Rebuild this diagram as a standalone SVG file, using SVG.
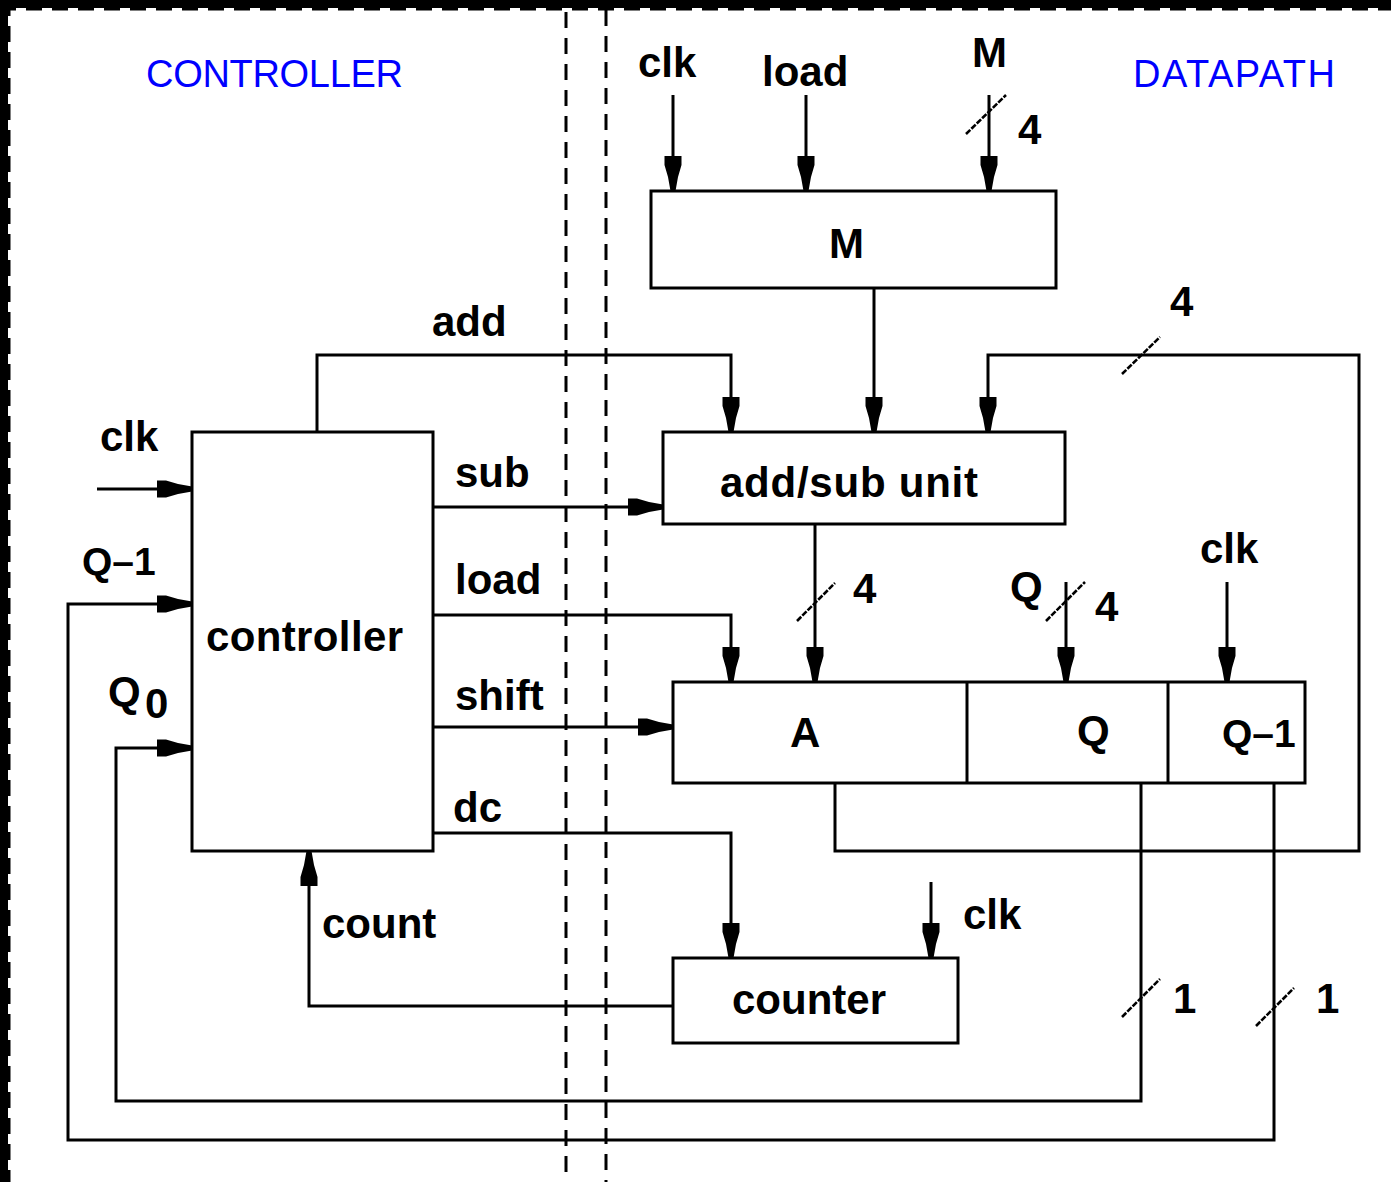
<svg xmlns="http://www.w3.org/2000/svg" width="1391" height="1182" viewBox="0 0 1391 1182">
<style>
  .box{fill:#fff;stroke:#000;stroke-width:3}
  .w{fill:none;stroke:#000;stroke-width:3}
  .a{fill:none;stroke:#000;stroke-width:3;marker-end:url(#arr)}
  .sl{fill:none;stroke:#000;stroke-width:2.6;stroke-dasharray:6 1.5}
  .dash{fill:none;stroke:#000;stroke-width:3;stroke-dasharray:16 10}
  text{font-family:"Liberation Sans",Arial,sans-serif;font-size:42px;font-weight:bold;fill:#000}
  .q1{font-size:39px}
  .blue{fill:#0000ff;font-weight:normal;font-size:38px}
</style>
<defs>
  <marker id="arr" markerUnits="userSpaceOnUse" orient="auto" refX="0" refY="0" markerWidth="40" markerHeight="20" overflow="visible">
    <path d="M-35,-8.5 L-26,-8.5 L-14,-5 L0,-2.5 L0,2.5 L-14,5 L-26,8.5 L-35,8.5 Z" fill="#000"/>
  </marker>
</defs>
<rect width="1391" height="1182" fill="#fff"/>
<g id="frame">
  <rect x="0" y="0" width="1391" height="8" fill="#000"/>
  <rect x="0" y="0" width="8" height="1182" fill="#000"/>
  <line x1="0" y1="9" x2="1391" y2="9" stroke="#000" stroke-width="3" stroke-dasharray="16 10"/>
  <line x1="9" y1="0" x2="9" y2="1182" stroke="#000" stroke-width="3" stroke-dasharray="16 10"/>
</g>
<g id="dividers">
  <line class="dash" x1="566" y1="12" x2="566" y2="1182"/>
  <line class="dash" x1="606" y1="10" x2="606" y2="1182"/>
</g>
<g id="titles">
  <text class="blue" x="146" y="87" textLength="257">CONTROLLER</text>
  <text class="blue" x="1133" y="87" textLength="202">DATAPATH</text>
</g>
<g id="connectors">
  <line class="a" x1="673" y1="95" x2="673" y2="191"/>
  <line class="a" x1="806" y1="95" x2="806" y2="191"/>
  <line class="a" x1="989" y1="95" x2="989" y2="191"/>
  <line class="sl" x1="966" y1="134" x2="1006" y2="95"/>
  <line class="a" x1="874" y1="288" x2="874" y2="432"/>
  <polyline class="a" points="317,432 317,355 731,355 731,432"/>
  <polyline class="a" points="835,783 835,851 1359,851 1359,355 988,355 988,432"/>
  <line class="sl" x1="1122" y1="374" x2="1160" y2="337"/>
  <line class="a" x1="433" y1="507" x2="663" y2="507"/>
  <polyline class="a" points="433,615 731,615 731,682"/>
  <line class="a" x1="433" y1="727" x2="673" y2="727"/>
  <polyline class="a" points="433,833 731,833 731,958"/>
  <line class="a" x1="931" y1="882" x2="931" y2="958"/>
  <polyline class="a" points="673,1006 309,1006 309,851"/>
  <line class="a" x1="815" y1="524" x2="815" y2="682"/>
  <line class="sl" x1="797" y1="621" x2="835" y2="583"/>
  <line class="a" x1="1066" y1="582" x2="1066" y2="682"/>
  <line class="sl" x1="1046" y1="621" x2="1085" y2="582"/>
  <line class="a" x1="1227" y1="582" x2="1227" y2="682"/>
  <polyline class="a" points="1141,783 1141,1101 116,1101 116,748 192,748"/>
  <line class="sl" x1="1122" y1="1017" x2="1160" y2="979"/>
  <polyline class="a" points="1274,783 1274,1140 68,1140 68,604 192,604"/>
  <line class="sl" x1="1256" y1="1026" x2="1294" y2="988"/>
  <line class="a" x1="97" y1="489" x2="192" y2="489"/>
</g>
<g id="labels">
  <text x="638" y="77">clk</text>
  <text x="762" y="86">load</text>
  <text x="972" y="67">M</text>
  <text x="1018" y="144">4</text>
  <text x="1170" y="316">4</text>
  <text x="432" y="336">add</text>
  <text x="455" y="487">sub</text>
  <text x="455" y="594">load</text>
  <text x="455" y="710">shift</text>
  <text x="453" y="822">dc</text>
  <text x="100" y="451">clk</text>
  <text class="q1" x="82" y="575">Q–1</text>
  <text x="108" y="706">Q</text>
  <text x="145" y="718">0</text>
  <text x="322" y="938">count</text>
  <text x="963" y="929">clk</text>
  <text x="1200" y="563">clk</text>
  <text x="1010" y="601">Q</text>
  <text x="1095" y="621">4</text>
  <text x="853" y="603">4</text>
  <text x="1173" y="1013">1</text>
  <text x="1316" y="1013">1</text>
</g>
<g id="node-M">
  <rect class="box" x="651" y="191" width="405" height="97"/>
  <text x="829" y="258">M</text>
</g>
<g id="node-addsub">
  <rect class="box" x="663" y="432" width="402" height="92"/>
  <text x="720" y="497" textLength="258">add/sub unit</text>
</g>
<g id="node-controller">
  <rect class="box" x="192" y="432" width="241" height="419"/>
  <text x="206" y="651" textLength="197">controller</text>
</g>
<g id="node-register">
  <rect class="box" x="673" y="682" width="632" height="101"/>
  <line class="w" x1="967" y1="682" x2="967" y2="783"/>
  <line class="w" x1="1168" y1="682" x2="1168" y2="783"/>
  <text x="790" y="747">A</text>
  <text x="1077" y="745">Q</text>
  <text class="q1" x="1222" y="747">Q–1</text>
</g>
<g id="node-counter">
  <rect class="box" x="673" y="958" width="285" height="85"/>
  <text x="732" y="1014">counter</text>
</g>
</svg>
